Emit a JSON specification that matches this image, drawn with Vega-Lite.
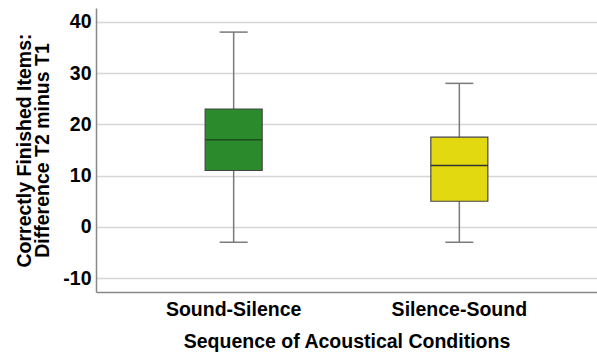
{
  "$schema": "https://vega.github.io/schema/vega-lite/v6.json",
  "autosize": "none",
  "width": 501,
  "height": 284,
  "padding": {"left": 96, "top": 8, "right": 0, "bottom": 60},
  "background": "white",
  "config": {
    "view": {"stroke": null},
    "font": "Liberation Sans"
  },
  "data": {
    "values": [
      {"cond": "Sound-Silence", "lower": -3, "q1": 11, "median": 17, "q3": 23, "upper": 38, "fill": "#2b8a2b", "mid": "#1d4f1d"},
      {"cond": "Silence-Sound", "lower": -3, "q1": 5, "median": 12, "q3": 17.5, "upper": 28, "fill": "#e3d910", "mid": "#333333"}
    ]
  },
  "encoding": {
    "x": {
      "field": "cond", "type": "nominal", "sort": ["Sound-Silence", "Silence-Sound"],
      "scale": {"paddingInner": 0.5, "paddingOuter": 0.36},
      "axis": {
        "title": "Sequence of Acoustical Conditions",
        "labelAngle": 0, "labelFont": "Liberation Sans", "labelFontSize": 19.5, "labelFontWeight": "bold", "labelColor": "#000",
        "labelPadding": 8, "ticks": false, "domainColor": "#888", "domainWidth": 1.5,
        "titleFont": "Liberation Sans", "titleFontSize": 19.5, "titleFontWeight": "bold", "titleColor": "#000", "titlePadding": 14
      }
    }
  },
  "layer": [
    {
      "mark": {"type": "rule", "color": "#7a7a7a", "strokeWidth": 1.5},
      "encoding": {
        "y": {
          "field": "lower", "type": "quantitative",
          "scale": {"domain": [-12.7, 42.7], "nice": false, "zero": false},
          "axis": {
            "title": ["Correctly Finished Items:", "Difference T2 minus T1"],
            "values": [-10, 0, 10, 20, 30, 40],
            "labelExpr": "datum.value + ''",
            "labelFont": "Liberation Sans", "labelFontSize": 19.5, "labelFontWeight": "bold", "labelColor": "#000",
            "labelPadding": 5, "ticks": false, "domainColor": "#888", "domainWidth": 1.5,
            "grid": true, "gridColor": "#d6d6d6", "gridWidth": 1.5,
            "titleFont": "Liberation Sans", "titleFontSize": 19.5, "titleFontWeight": "bold", "titleColor": "#000",
            "titlePadding": 10, "titleLineHeight": 18
          }
        },
        "y2": {"field": "upper"}
      }
    },
    {
      "mark": {"type": "tick", "color": "#7a7a7a", "size": 28, "thickness": 1.5, "opacity": 1},
      "encoding": {"y": {"field": "lower", "type": "quantitative"}}
    },
    {
      "mark": {"type": "tick", "color": "#7a7a7a", "size": 28, "thickness": 1.5, "opacity": 1},
      "encoding": {"y": {"field": "upper", "type": "quantitative"}}
    },
    {
      "mark": {"type": "bar", "size": 57, "stroke": "#444", "strokeWidth": 1.2},
      "encoding": {
        "y": {"field": "q1", "type": "quantitative"},
        "y2": {"field": "q3"},
        "fill": {"field": "fill", "type": "nominal", "scale": null}
      }
    },
    {
      "mark": {"type": "tick", "size": 57, "thickness": 1.5, "opacity": 1},
      "encoding": {
        "y": {"field": "median", "type": "quantitative"},
        "color": {"field": "mid", "type": "nominal", "scale": null}
      }
    }
  ]
}
